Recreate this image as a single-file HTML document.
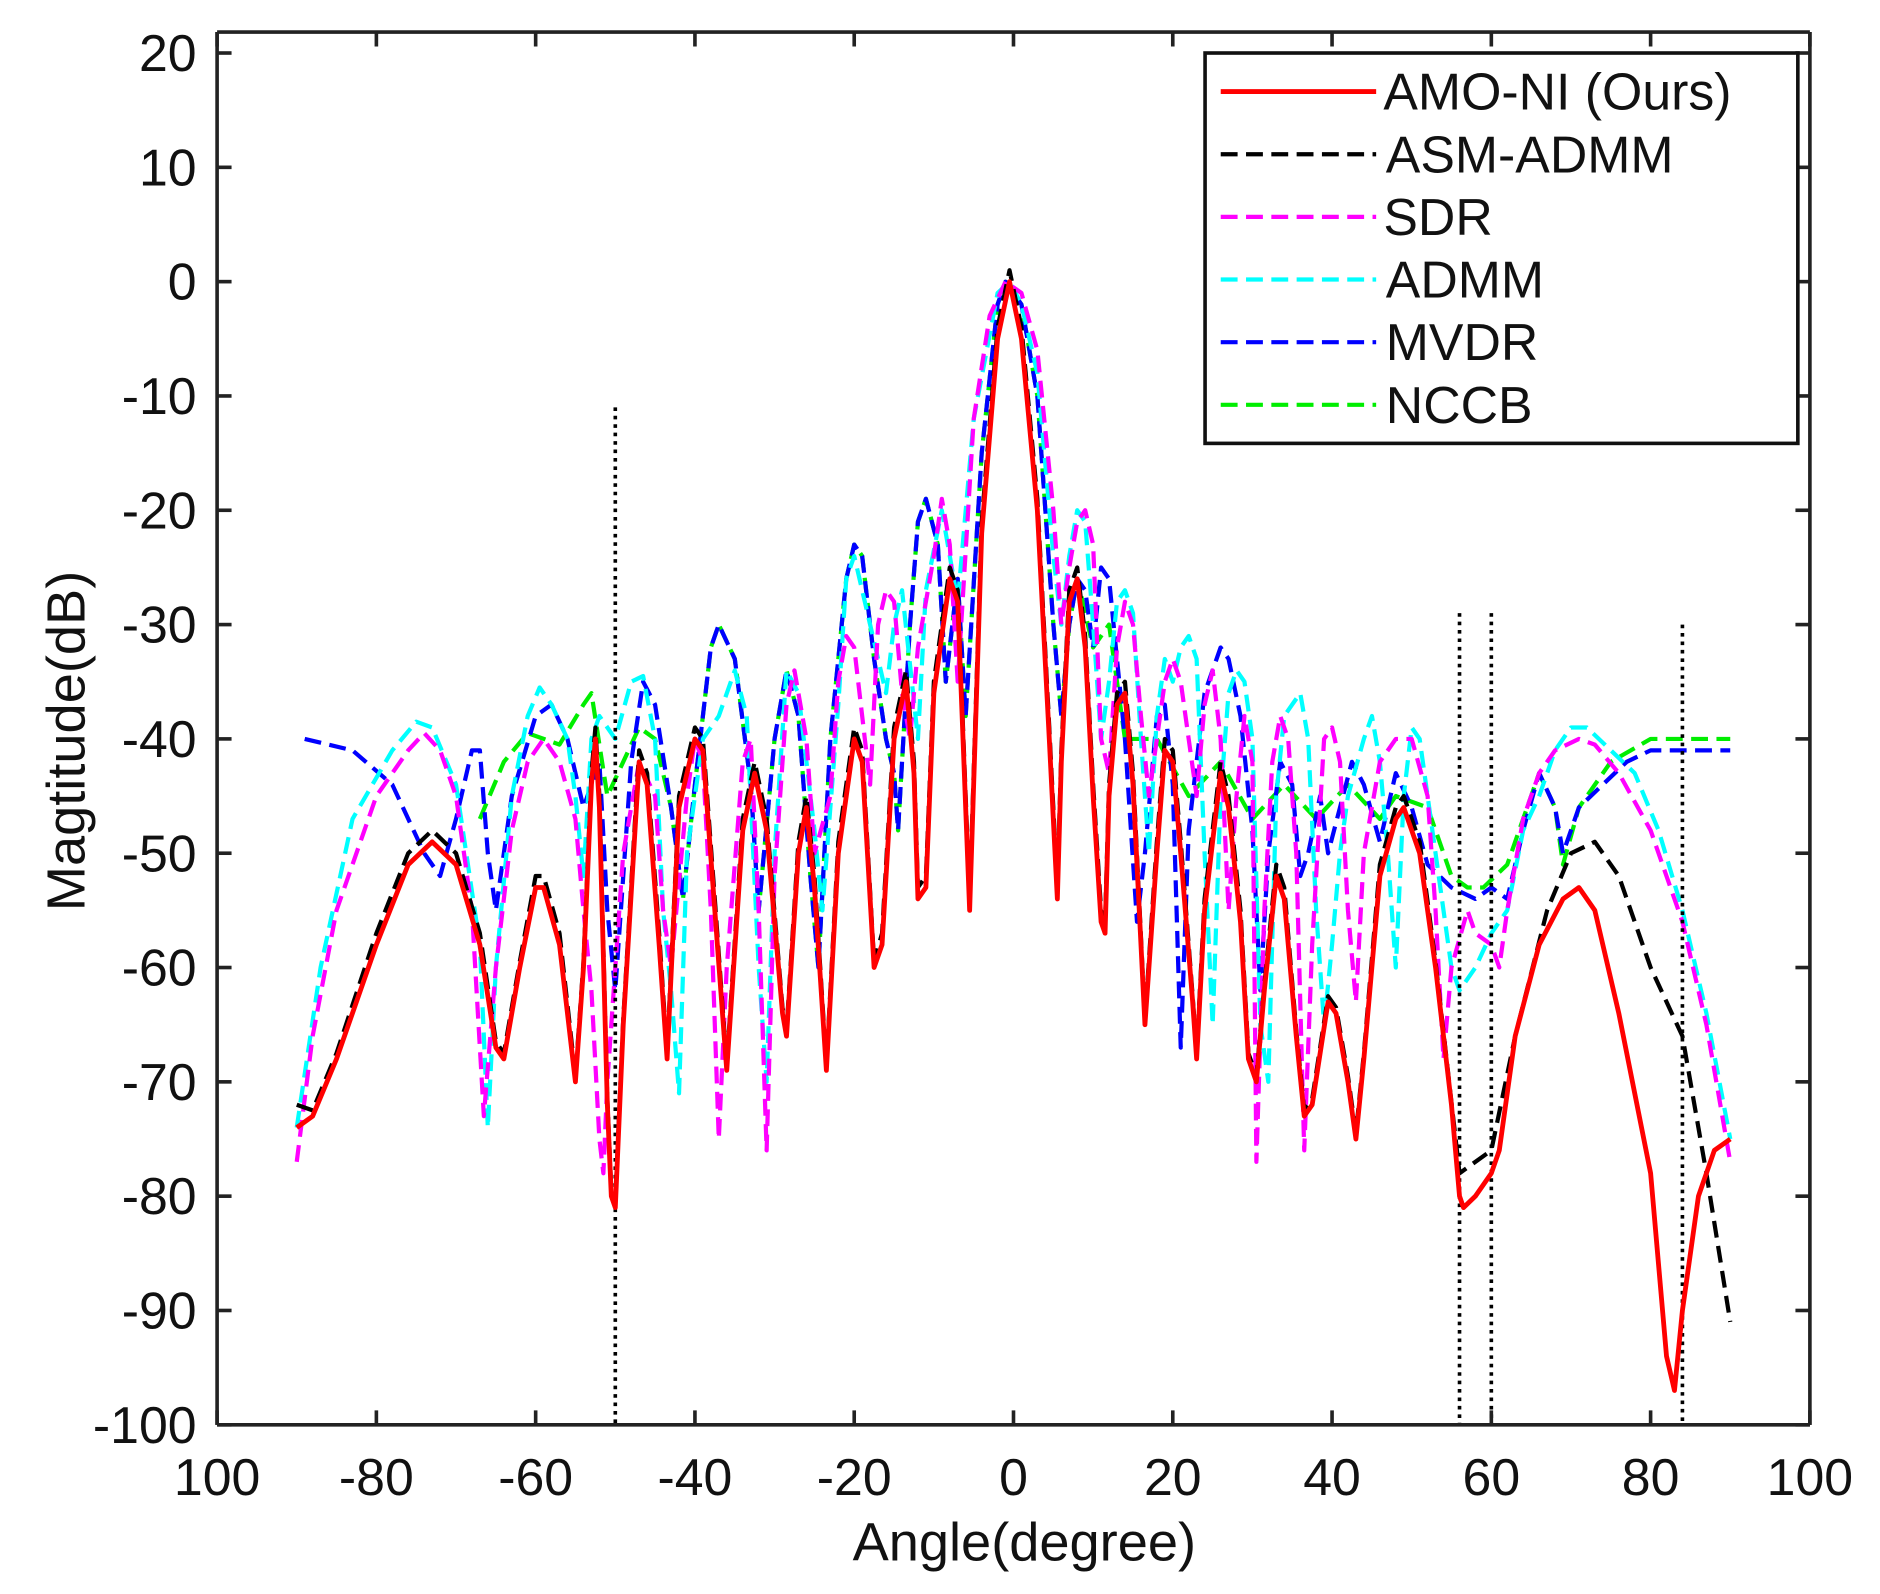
<!DOCTYPE html>
<html><head><meta charset="utf-8"><style>
html,body{margin:0;padding:0;background:#fff}
svg{display:block}
text{font-family:"Liberation Sans",sans-serif;fill:#111}
</style></head><body>
<svg id="s" width="1880" height="1594" viewBox="0 0 1560 1323" xmlns="http://www.w3.org/2000/svg">
<rect x="0" y="0" width="1560" height="1323" fill="#fff"/>
<g id="plot"></g>
<g id="frame"></g>
<text x="850" y="1295" font-size="45" text-anchor="middle">Angle(degree)</text>
<text transform="translate(70,615) rotate(-90)" font-size="45" text-anchor="middle">Magtitude(dB)</text>
<rect x="1000" y="44" width="492" height="324" fill="#fff" stroke="#111" stroke-width="3"/>
<g font-size="43">
<line x1="1013" y1="76" x2="1142" y2="76" stroke="#f00" stroke-width="4"/><text x="1148" y="91">AMO-NI (Ours)</text>
<line x1="1013" y1="128" x2="1142" y2="128" stroke="#000" stroke-width="3.5" stroke-dasharray="14,7"/><text x="1150" y="143">ASM-ADMM</text>
<line x1="1013" y1="180" x2="1142" y2="180" stroke="#f0f" stroke-width="3.5" stroke-dasharray="14,7"/><text x="1148" y="195">SDR</text>
<line x1="1013" y1="232" x2="1142" y2="232" stroke="#0ff" stroke-width="3.5" stroke-dasharray="14,7"/><text x="1150" y="247">ADMM</text>
<line x1="1013" y1="284" x2="1142" y2="284" stroke="#00f" stroke-width="3.5" stroke-dasharray="14,7"/><text x="1150" y="299">MVDR</text>
<line x1="1013" y1="336" x2="1142" y2="336" stroke="#0e0" stroke-width="3.5" stroke-dasharray="14,7"/><text x="1150" y="351">NCCB</text>
</g>
</svg>
<script>
var X=function(d){return 180+(d+100)*6.61;},Y=function(v){return 44+(20-v)*9.488;};
function pts(a){var s=[];for(var i=0;i<a.length;i+=2)s.push(X(a[i]).toFixed(1)+","+Y(a[i+1]).toFixed(1));return s.join(" ");}
var red=[-90,-74,-88,-73,-85,-68,-80,-58,-76,-51,-73,-49,-70,-51,-67,-58,-65,-67,-64,-68,-62,-60,-60,-53,-59,-53,-57,-58,-55,-70,-54,-60,-53,-44,-52.5,-40,-52,-46,-51,-72,-50.5,-80,-50,-81,-49,-65,-47,-42,-46,-44,-44.5,-58,-43.5,-68,-42,-46,-40,-40,-39,-41,-37.5,-55,-36,-69,-34,-48,-32.5,-43,-31,-48,-29,-64,-28.5,-66,-27,-50,-26,-46,-25,-53,-23.5,-69,-22,-50,-20,-40,-19,-42,-17.5,-60,-16.5,-58,-15,-40,-13.5,-35,-12.5,-43,-12,-54,-11,-53,-10,-36,-8,-26,-7,-28,-5.5,-55,-4,-22,-2,-5,-0.5,0,1,-5,3,-20,4.5,-40,5.5,-54,6,-42,7,-28,8,-26,9,-32,10,-45,11,-56,11.5,-57,12,-45,13,-37,14,-36,15,-44,16.5,-65,18,-50,19,-41,20,-42,21,-50,22.5,-63,23,-68,24,-55,26,-43,27,-46,28.5,-56,29.5,-68,30.5,-70,31.5,-62,33,-52,34,-54,35.5,-66,36.5,-73,37.5,-72,39.5,-63,40.5,-64,42,-70,43,-75,44,-68,46,-52,48,-47,49,-46,51,-50,53,-60,55,-72,56,-80,56.5,-81,58,-80,60,-78,61,-76,63,-66,66,-58,69,-54,71,-53,73,-55,76,-64,80,-78,82,-94,83,-97,84,-90,86,-80,88,-76,90,-75];
var black=[];for(var i=0;i<red.length;i+=2){if(red[i]<55){var v=red[i+1];black.push(red[i],v>-60?v+1:v+0.5);}}
black=black.concat([56,-78,60,-76,63,-66,67,-55,70,-50,73,-49,76,-52,80,-60,84,-66,87,-78,90,-91]);
black[1]=-72;
var blue=[-89,-40,-83,-41,-78,-44,-74,-50,-72,-52,-70,-47,-68,-41,-67,-41,-66,-50,-65,-55,-63,-45,-60,-38,-58,-37,-56,-40,-54,-46,-52,-42,-51,-55,-50,-62,-48,-42,-46.5,-35,-45,-37,-43,-46,-41.5,-54,-40,-44,-38,-32,-37,-30,-35,-33,-33,-44,-32,-55,-30,-40,-28.5,-34,-27,-38,-25.5,-52,-24.5,-60,-23,-40,-21,-26,-20,-23,-19,-24,-17.5,-33,-16,-40,-15,-43,-14.5,-48,-13,-30,-12,-21,-11,-19,-9.5,-23,-8.5,-35,-7,-26,-6,-38,-4,-15,-2,-2,-1,0,1,-2,3,-10,5,-30,6,-38,7,-30,8,-26,9,-27,10,-32,11,-25,12,-26,13,-33,14,-40,15.5,-56,16.5,-50,18,-38,19,-37,20,-44,21,-67,22,-48,24,-36,26,-32,27,-33,28.5,-38,30,-48,31,-62,32,-50,33.5,-42,35,-44,36,-52,37,-50,38.5,-45,39.5,-50,41,-46,42.5,-42,44,-44,46,-49,48,-43,50,-46,52,-51,55,-53,58,-54,60,-53,62,-54,64,-48,66,-43,68,-46,69,-50,71,-46,74,-44,77,-42,80,-41,85,-41,90,-41];
var green=[-67,-47,-64,-42,-61,-39.5,-57,-40.5,-54,-37,-53,-36,-51,-45,-49,-42,-47,-39,-45,-40,-43,-46,-41.5,-54,-40,-44,-38,-32,-37,-30,-35,-33,-33,-44,-32,-55,-30,-40,-28.5,-34,-27,-38,-25.5,-52,-24.5,-60,-23,-40,-21,-26,-20,-23,-19,-24,-17.5,-33,-16,-40,-15,-43,-14.5,-48,-13,-30,-12,-21,-11,-19,-9.5,-23,-8.5,-35,-7,-26,-6,-38,-4,-15,-2,-2,-1,0,1,-2,3,-10,5,-30,6,-38,7,-30,8,-26,10,-32,12,-30,14,-40,18,-40,22,-45,26,-42,30,-47,34,-44,38,-47,42,-44,46,-47,48,-45,52,-46,55,-52,57,-53,59,-53,62,-51,64,-47,66,-43,68,-46,69,-51,71,-46,75,-42,80,-40,90,-40];
var cyan=[-90,-74,-87,-60,-83,-47,-78,-41,-75,-38.5,-73,-39,-70,-44,-67,-58,-66,-74,-65,-60,-63,-45,-61,-38,-59.5,-35.5,-58,-37,-56,-40,-55,-45,-54,-52,-53,-40,-52,-38,-50,-40,-48,-35,-46.5,-34.5,-45,-40,-44,-55,-43,-62,-42,-71,-41,-50,-39,-40,-37,-38,-35,-34,-33.5,-38,-32,-60,-31,-70,-30,-50,-28.5,-34,-27,-36,-25,-48,-24,-55,-22,-37,-21,-26,-20,-24,-18,-30,-16,-36,-15,-30,-14,-27,-12,-40,-11,-27,-9,-20,-7,-28,-5,-12,-2,-1,-0.5,0,1,-2,3,-8,5,-24,6,-30,7,-24,8,-20,9,-21,10,-30,11,-40,12,-35,13,-28,14,-27,15,-29,16,-40,17,-50,18,-38,19,-33,20,-35,21,-32,22,-31,23,-33,24,-50,25,-65,26,-45,27,-36,28,-34,29,-35,30,-40,31,-65,32,-70,33,-45,34,-38,35,-37,36,-36,37,-40,38,-55,39,-65,40,-58,41,-50,42,-45,44,-40,45,-38,46,-42,47,-50,48,-60,49,-45,50,-39,51,-40,53,-50,55,-60,56,-62,58,-60,60,-57,62,-55,64,-48,66,-45,68,-41,70,-39,72,-39,75,-41,78,-43,81,-48,84,-55,87,-64,90,-75];
var mag=[-90,-77,-88,-66,-85,-55,-80,-45,-76,-41,-74,-39.5,-72,-41,-70,-45,-68,-55,-66.5,-73,-65,-60,-63,-48,-61,-42,-59,-40,-57,-42,-55,-47,-54,-55,-53,-62,-52,-75,-51.5,-78,-51,-70,-49,-50,-47,-42,-45,-45,-44,-55,-43,-60,-41,-45,-40,-40,-39,-42,-38,-55,-37,-75,-36,-60,-34,-42,-33,-40,-32,-55,-31,-76,-30,-52,-28.5,-37,-27.5,-34,-26,-40,-25,-50,-23,-45,-22,-35,-21,-31,-20,-32,-19,-38,-18,-44,-17,-30,-16,-27,-15,-28,-14,-36,-13,-40,-12,-32,-10,-24,-9,-19,-8,-23,-7,-35,-5,-12,-3,-3,-1,0,1,-1,3,-6,5,-20,6,-30,7,-25,8,-21,9,-20,10,-23,11,-40,12,-43,13,-32,14,-28,15,-30,16,-38,17,-45,18,-40,19,-35,20,-33,21,-35,22,-40,23,-45,24,-37,25,-34,26,-40,27,-55,28,-45,29,-38,30,-42,30.5,-77,31.5,-55,32.5,-42,33.5,-38,34.5,-40,35.5,-50,36.5,-76,37.5,-58,39,-40,40,-39,41,-42,42,-55,43,-63,44,-50,46,-42,48,-40,50,-40,52,-45,53,-55,54,-68,55,-60,57,-55,58,-57,60,-58,61,-60,62,-55,64,-47,66,-43,68,-41,71,-40,73,-40.5,76,-43,80,-48,84,-56,87,-65,90,-77];
var NS="http://www.w3.org/2000/svg",g=document.getElementById("plot"),f=document.getElementById("frame");
function pl(p,a,c,w,d){var e=document.createElementNS(NS,"polyline");e.setAttribute("points",pts(a));e.setAttribute("fill","none");e.setAttribute("stroke",c);e.setAttribute("stroke-width",w);e.setAttribute("stroke-linejoin","round");if(d)e.setAttribute("stroke-dasharray",d);p.appendChild(e);}
pl(g,green,"#0e0",3.5,"14,7");pl(g,blue,"#00f",3.5,"14,7");pl(g,cyan,"#0ff",3.5,"14,7");pl(g,mag,"#f0f",3.5,"14,7");
[[-50,-11],[56,-29],[60,-29],[84,-30]].forEach(function(v){pl(g,[v[0],v[1],v[0],-100],"#000",3,"3,4");});
pl(g,black,"#000",3.5,"14,7");pl(g,red,"#f00",4,null);
function ln(x1,y1,x2,y2){var e=document.createElementNS(NS,"line");e.setAttribute("x1",x1);e.setAttribute("y1",y1);e.setAttribute("x2",x2);e.setAttribute("y2",y2);e.setAttribute("stroke","#222");e.setAttribute("stroke-width",3);f.appendChild(e);}
function tx(x,y,s,a){var e=document.createElementNS(NS,"text");e.setAttribute("x",x);e.setAttribute("y",y);e.setAttribute("font-size",43);e.setAttribute("text-anchor",a);e.textContent=s;f.appendChild(e);}
var L=180,R=1502,T=26.6,B=1182.6;
ln(L,T,R,T);ln(L,B,R,B);ln(L,T,L,B);ln(R,T,R,B);
for(var v=20;v>=-100;v-=10){var y=Y(v);ln(L,y,L+12,y);ln(R,y,R-12,y);tx(163,y+15,String(v),"end");}
for(var d=-100;d<=100;d+=20){var x=X(d);ln(x,B,x,B-12);ln(x,T,x,T+12);tx(x,1241,d==-100?"100":String(d),"middle");}
</script>
</body></html>
